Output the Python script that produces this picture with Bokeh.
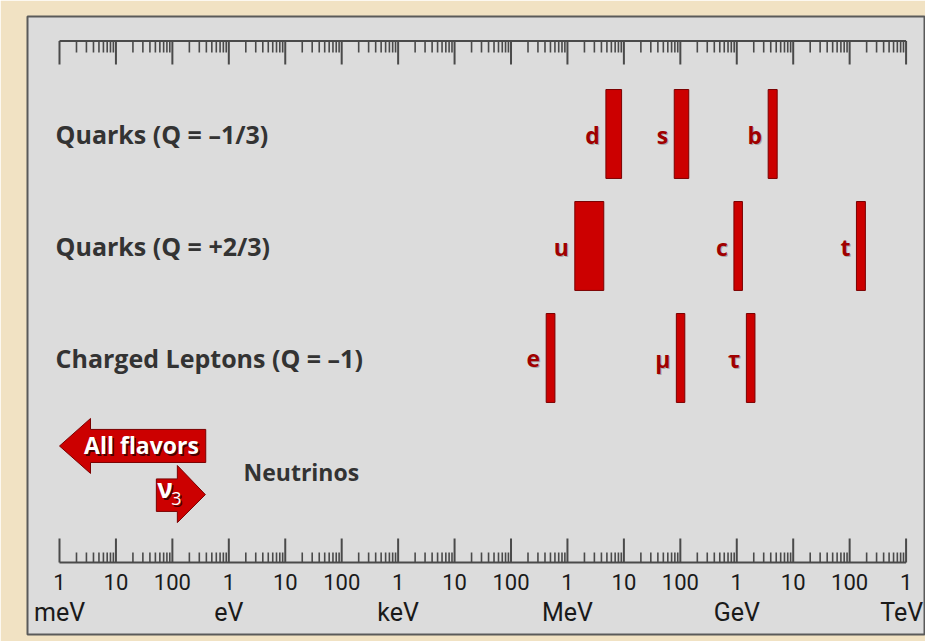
import numpy as np
from bokeh.plotting import figure
from bokeh.models import Range1d
from bokeh.core.properties import value
from bokeh.embed import file_html
from bokeh.resources import INLINE

# ---------------- data ----------------
row_labels = ["Quarks (Q = \u20131/3)", "Quarks (Q = +2/3)", "Charged Leptons (Q = \u20131)"]
row_index = [0, 1, 2]
particles = ["d", "s", "b", "u", "c", "t", "e", "\u03bc", "\u03c4"]
particle_row = [0, 0, 0, 1, 1, 1, 2, 2, 2]
mass_low_eV = [4.8e6, 7.8e7, 3.6e9, 1.35e6, 8.9e8, 1.32e11, 4.2e5, 8.5e7, 1.48e9]
mass_high_eV = [9.1e6, 1.41e8, 5.2e9, 4.4e6, 1.26e9, 1.9e11, 6.0e5, 1.2e8, 2.1e9]
nu_all_flavors_max_eV = 0.39
nu3_min_eV = 0.052
nu_row = 3
decade_values_eV = [10.0 ** k for k in range(-3, 13)]
decade_labels = ["1", "10", "100"] * 5 + ["1"]
unit_values_eV = [1e-3, 1.0, 1e3, 1e6, 1e9, 1e12]
unit_labels = ["meV", "eV", "keV", "MeV", "GeV", "TeV"]
minor_multiples = [2, 3, 4, 5, 6, 7, 8, 9]

# ---------------- style / layout ----------------
RED = "#cc0000"
RED_EDGE = "#7a0000"
LETTER_RED = "#a00000"
TEXT_DARK = "#333333"
PANEL = "#dcdcdc"
BEIGE = "#f1e2c3"
RULER = "#4a4a4a"
FONT = value("Open Sans")
NUM_FONT = value("Roboto")

p = figure(width=925, height=641, x_axis_type="log",
           x_range=Range1d(10 ** -3.567, 10 ** 12.344),
           y_range=Range1d(4.469, -1.049),
           x_axis_location=None, y_axis_location=None,
           toolbar_location=None, output_backend="svg",
           min_border_left=27, min_border_right=0,
           min_border_top=16, min_border_bottom=7)
p.background_fill_color = PANEL
p.border_fill_color = BEIGE
p.outline_line_color = "#5a5a5a"
p.outline_line_width = 2
p.xgrid.visible = False
p.ygrid.visible = False

# ---------------- rulers ----------------
minor_vals = [d * m for d in decade_values_eV[:-1] for m in minor_multiples]
x_lo, x_hi = decade_values_eV[0], decade_values_eV[-1]
for base, maj, mnr in [(-0.830, -0.620, -0.728), (3.826, 3.612, 3.737)]:
    p.segment(x0=[x_lo], x1=[x_hi], y0=[base], y1=[base], line_color=RULER, line_width=2)
    p.segment(x0=decade_values_eV, x1=decade_values_eV,
              y0=[base] * len(decade_values_eV), y1=[maj] * len(decade_values_eV),
              line_color=RULER, line_width=2)
    p.segment(x0=minor_vals, x1=minor_vals,
              y0=[base] * len(minor_vals), y1=[mnr] * len(minor_vals),
              line_color=RULER, line_width=1.6)

p.text(x=decade_values_eV, y=[4.004] * len(decade_values_eV), text=decade_labels,
       text_align="center", text_baseline="middle", text_font=NUM_FONT,
       text_font_size="22px", text_color="#1a1a1a")
# unit labels: all centred under their decade, the last one kept inside the panel
p.text(x=unit_values_eV[:-1], y=[4.277] * (len(unit_values_eV) - 1), text=unit_labels[:-1],
       text_align="center", text_baseline="middle", text_font=NUM_FONT,
       text_font_size="25px", text_color="#1a1a1a")
p.text(x=unit_values_eV[-1:], y=[4.277], text=unit_labels[-1:], x_offset=17,
       text_align="right", text_baseline="middle", text_font=NUM_FONT,
       text_font_size="25px", text_color="#1a1a1a")

# ---------------- row labels ----------------
lab_x = 10 ** -3.07
p.text(x=[lab_x] * 3, y=row_index, text=row_labels, text_align="left",
       text_baseline="middle", text_font=FONT, text_font_style="bold",
       text_font_size="25px", text_color=TEXT_DARK)

# ---------------- mass bars ----------------
half_h = 0.397
p.quad(left=mass_low_eV, right=mass_high_eV,
       bottom=[r + half_h for r in particle_row], top=[r - half_h for r in particle_row],
       fill_color=RED, line_color=RED_EDGE, line_width=1)
p.text(x=mass_low_eV, y=particle_row, text=particles, x_offset=-5, y_offset=2,
       text_align="right", text_baseline="middle", text_font=FONT, text_font_style="bold",
       text_font_size="23px", text_color="#777777", text_alpha=0.5)
p.text(x=mass_low_eV, y=particle_row, text=particles, x_offset=-6, y_offset=1,
       text_align="right", text_baseline="middle", text_font=FONT, text_font_style="bold",
       text_font_size="23px", text_color=LETTER_RED)

# ---------------- neutrino arrows ----------------
def dec(px):
    return 10 ** (px / 56.44)

# all flavors: left-pointing arrow from the upper bound to the meV edge
tip = decade_values_eV[0]
hb = tip * dec(31)
rc = nu_row - 0.214
xs_a = [tip, hb, hb, nu_all_flavors_max_eV, nu_all_flavors_max_eV, hb, hb]
ys_a = [rc, rc - 0.246, rc - 0.148, rc - 0.148, rc + 0.147, rc + 0.147, rc + 0.245]
p.patch(xs_a, ys_a, fill_color=RED, line_color=RED_EDGE, line_width=1)

# nu3: right-pointing arrow from the lower bound
b1 = nu3_min_eV * dec(21)
tip2 = b1 * dec(28)
rc2 = nu_row + 0.22
xs_b = [nu3_min_eV, b1, b1, tip2, b1, b1, nu3_min_eV]
ys_b = [rc2 - 0.14, rc2 - 0.14, rc2 - 0.26, rc2, rc2 + 0.25, rc2 + 0.15, rc2 + 0.15]
p.patch(xs_b, ys_b, fill_color=RED, line_color=RED_EDGE, line_width=1)

# arrow texts (with dark shadow)
for col, off in [("#4a0000", 1.5), ("white", 0)]:
    p.text(x=[10 ** -1.547], y=[nu_row - 0.219], text=["All flavors"], x_offset=off, y_offset=off,
           text_align="center", text_baseline="middle", text_font=FONT, text_font_style="bold",
           text_font_size="23px", text_color=col)
    p.text(x=[nu3_min_eV], y=[nu_row + 0.165], text=["\u03bd"], x_offset=1 + off, y_offset=off,
           text_align="left", text_baseline="middle", text_font=FONT, text_font_style="bold",
           text_font_size="26px", text_color=col)
    p.text(x=[nu3_min_eV], y=[nu_row + 0.255], text=["3"], x_offset=15 + off, y_offset=off,
           text_align="left", text_baseline="middle", text_font=FONT,
           text_font_size="18px", text_color=col)

p.text(x=[10 ** 0.26], y=[nu_row + 0.02], text=["Neutrinos"], text_align="left",
       text_baseline="middle", text_font=FONT, text_font_style="bold",
       text_font_size="23px", text_color=TEXT_DARK)

open("out.html", "w").write(file_html(p, INLINE))
